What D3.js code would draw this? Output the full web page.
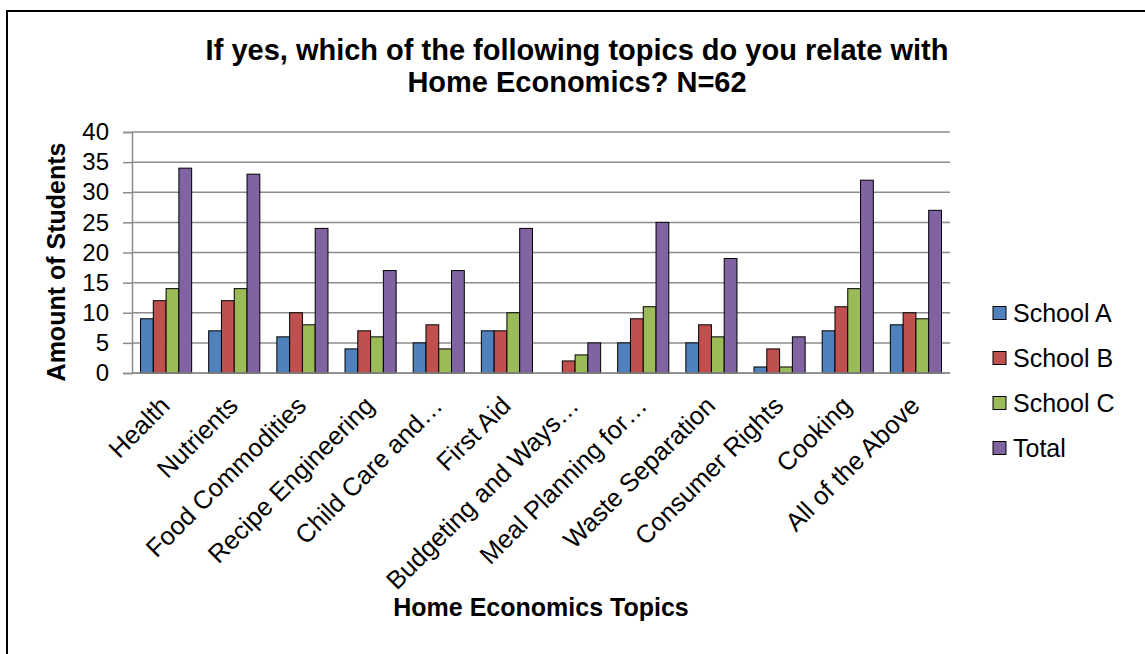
<!DOCTYPE html>
<html><head><meta charset="utf-8">
<script src="https://cdn.jsdelivr.net/npm/d3@7"></script>
<style>body{margin:0;background:#fff;} svg{display:block;font-family:"Liberation Sans",Arial,sans-serif;}</style>
</head><body>
<svg id="c" width="1145" height="654"></svg>
<script>
const categories = ["Health","Nutrients","Food Commodities","Recipe Engineering","Child Care and…","First Aid","Budgeting and Ways…","Meal Planning for…","Waste Separation","Consumer Rights","Cooking","All of the Above"];
const seriesNames = ["School A","School B","School C","Total"];
const schoolA = [9,7,6,4,5,7,0,5,5,1,7,8];
const schoolB = [12,12,10,7,8,7,2,9,8,4,11,10];
const schoolC = [14,14,8,6,4,10,3,11,6,1,14,9];
const total = [34,33,24,17,17,24,5,25,19,6,32,27];
const yTicks = [0,5,10,15,20,25,30,35,40];
const colors = ["#4F81BD","#C0504D","#9BBB59","#8064A2"];
const seriesValues = [schoolA, schoolB, schoolC, total];

const svg = d3.select("#c");
const L = 132, R = 950, T = 132, B = 373;

svg.append("rect").attr("x",7).attr("y",11).attr("width",1200).attr("height",700)
  .attr("fill","#fff").attr("stroke","#000").attr("stroke-width",2);

const y = d3.scaleLinear().domain([0,40]).range([B,T]);
const x0 = d3.scaleBand().domain(categories).range([L,R]).paddingInner(0.25).paddingOuter(0.125);
const x1 = d3.scaleBand().domain(seriesNames).range([0,x0.bandwidth()]);

// gridlines
svg.append("g").selectAll("line").data(yTicks).join("line")
  .attr("x1",L).attr("x2",R).attr("y1",d=>y(d)).attr("y2",d=>y(d))
  .attr("stroke","#8c8c8c").attr("stroke-width",1.5);

// y axis
const yAxis = d3.axisLeft(y).tickValues(yTicks).tickSize(9).tickPadding(14);
const gy = svg.append("g").attr("transform",`translate(${L},0)`).call(yAxis);
gy.select(".domain").attr("stroke","#8c8c8c").attr("stroke-width",1.5);
gy.selectAll(".tick line").attr("stroke","#8c8c8c").attr("stroke-width",1.5);
gy.selectAll(".tick text").attr("font-size",24).attr("fill","#000").attr("font-family","Liberation Sans, Arial, sans-serif");

// bars
const rows = categories.map((c,i)=>({c, vals: seriesValues.map((s,j)=>({k:seriesNames[j], v:s[i], col:colors[j]}))}));
svg.append("g").selectAll("g").data(rows).join("g")
  .attr("transform",d=>`translate(${x0(d.c)},0)`)
  .selectAll("rect").data(d=>d.vals).join("rect")
  .attr("x",d=>x1(d.k)).attr("width",x1.bandwidth())
  .attr("y",d=>y(d.v)).attr("height",d=>B-y(d.v))
  .attr("fill",d=>d.col).attr("stroke",d=>d.v>0?"#000":"none").attr("stroke-width",1);

// x baseline
svg.append("line").attr("x1",L).attr("x2",R).attr("y1",B).attr("y2",B).attr("stroke","#8c8c8c").attr("stroke-width",1.5);

// x labels
const xAxis = d3.axisBottom(x0).tickSize(0).tickPadding(0);
const gx = svg.append("g").attr("transform",`translate(0,${B})`).call(xAxis);
gx.select(".domain").remove();
gx.selectAll(".tick text").attr("font-size",25.5).attr("fill","#000")
  .attr("font-family","Liberation Sans, Arial, sans-serif")
  .attr("text-anchor","end").attr("dy","0.35em")
  .attr("transform","translate(-1,28) rotate(-45)").attr("y",0).attr("x",0);

// titles
const title = svg.append("text").attr("x",577).attr("text-anchor","middle").attr("font-weight","bold").attr("font-size",29);
title.append("tspan").attr("x",577).attr("y",60).text("If yes, which of the following topics do you relate with");
title.append("tspan").attr("x",577).attr("y",92).text("Home Economics? N=62");

svg.append("text").attr("transform","translate(65,262) rotate(-90)").attr("text-anchor","middle")
  .attr("font-weight","bold").attr("font-size",25).text("Amount of Students");
svg.append("text").attr("x",541).attr("y",616).attr("text-anchor","middle")
  .attr("font-weight","bold").attr("font-size",25).text("Home Economics Topics");

// legend
const lg = svg.append("g").selectAll("g").data(seriesNames).join("g")
  .attr("transform",(d,i)=>`translate(993,${313+i*45})`);
lg.append("rect").attr("x",0).attr("y",-6.5).attr("width",13).attr("height",13)
  .attr("fill",(d,i)=>colors[i]).attr("stroke","#000").attr("stroke-width",1);
lg.append("text").attr("x",20).attr("dy","0.35em").attr("font-size",25).text(d=>d);
</script>
</body></html>
